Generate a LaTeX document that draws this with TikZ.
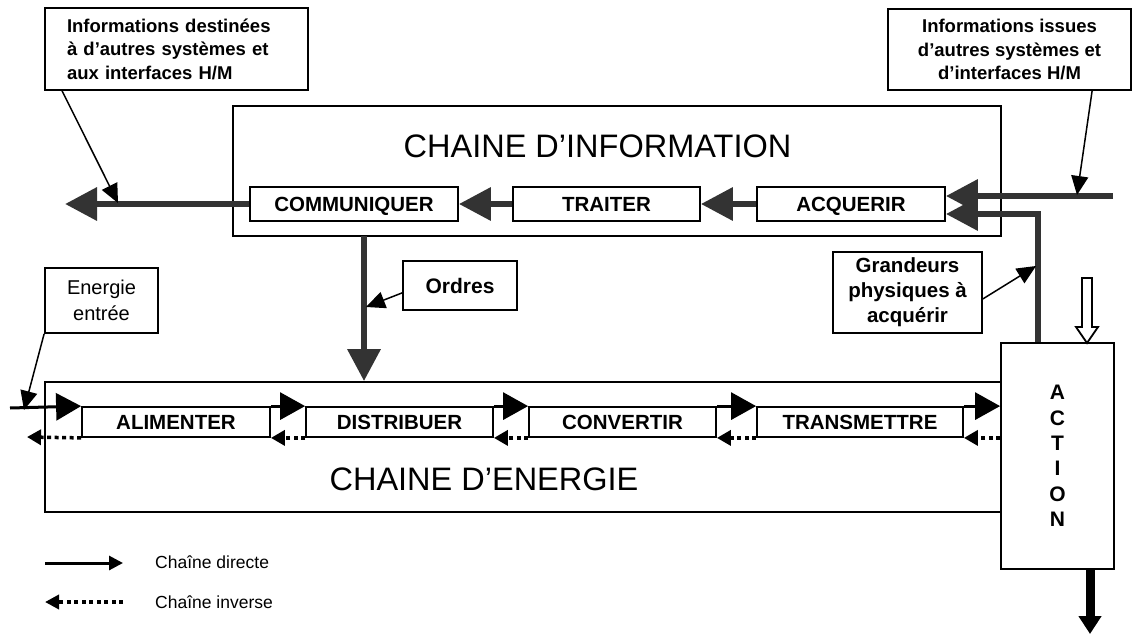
\documentclass[tikz,border=0pt]{standalone}
\usepackage{fontspec}
\setmainfont{Liberation Sans}
\usetikzlibrary{arrows.meta,calc}
\definecolor{infogray}{HTML}{333333}
\begin{document}
\begin{tikzpicture}[x=1pt,y=-1pt,
  bigbox/.style={draw, line width=1.8pt, fill=white, inner sep=0pt},
  sbox/.style={draw, line width=1.8pt, fill=white, inner sep=0pt,
    font=\bfseries\fontsize{20.5}{24}\selectfont},
  capbox/.style={sbox, text height=14.7pt, text depth=0pt},
  cbox/.style={draw, line width=1.8pt, fill=white, inner sep=0pt,
    font=\bfseries\fontsize{18.5}{23.5}\selectfont},
  titletext/.style={inner sep=0pt, font=\fontsize{32.5}{36}\selectfont},
  legtext/.style={inner sep=0pt, anchor=west, font=\fontsize{17.5}{20}\selectfont},
  infoarrow/.style={draw=infogray, line width=6.5pt, -{Triangle[length=32pt,width=32pt]}},
  enarrow/.style={draw=black, line width=3pt, -{Triangle[length=25pt,width=27pt]}},
  invarrow/.style={draw=black, line width=3.5pt, dash pattern=on 4pt off 3.5pt,
    -{Triangle[length=14pt,width=15pt]}},
  pointer/.style={draw=black, line width=1.5pt, -{Triangle[length=19pt,width=17pt]}}
]
\useasboundingbox (0,0) rectangle (1132,634);

% ---------- information chain ----------
\node[bigbox, minimum width=768pt, minimum height=130pt] (info) at (617,171) {};
\node[titletext] (infot) at (597.5,146) {CHAINE D’INFORMATION};

\node[capbox, minimum width=208pt, minimum height=34pt] (com) at (354,204) {COMMUNIQUER};
\node[capbox, minimum width=187pt, minimum height=34pt] (tra) at (606.5,204) {TRAITER};
\node[capbox, minimum width=188pt, minimum height=34pt] (acq) at (851,204) {ACQUERIR};

\coordinate (outL) at (65,204);
\coordinate (inR) at (1113,196);
\coordinate (fb) at (1038,214);
\coordinate (ordTop) at (364,236);

% ---------- energy chain ----------
\node[bigbox, minimum width=957pt, minimum height=130pt] (ene) at (523.5,447) {};
\node[titletext] (enet) at (484,479) {CHAINE D’ENERGIE};

\node[capbox, minimum width=188pt, minimum height=30pt] (ali) at (176,422) {ALIMENTER};
\node[capbox, minimum width=187pt, minimum height=30pt] (dis) at (399.5,422) {DISTRIBUER};
\node[capbox, minimum width=187pt, minimum height=30pt] (con) at (622.5,422) {CONVERTIR};
\node[capbox, minimum width=206pt, minimum height=30pt] (trm) at (860,422) {TRANSMETTRE};

\node[bigbox, minimum width=113pt, minimum height=226pt, align=center,
  font=\bfseries\fontsize{21}{25.4}\selectfont] (act) at (1057.5,456) {A\\C\\T\\I\\O\\N};

% ---------- info arrows ----------
\draw[infoarrow] (tra.west) -- (com.east);
\draw[infoarrow] (acq.west) -- (tra.east);
\draw[infoarrow] (com.west) -- (outL);
\draw[infoarrow] (inR) -- (acq.east |- inR);
\draw[infoarrow] (fb |- act.north) -- (fb) -- (acq.east |- fb);
\draw[infoarrow] (ordTop) -- (ordTop |- ene.north);

% ---------- energy arrows ----------
\coordinate (ein) at (10,408);
\coordinate (eout) at (27,437);
\draw[enarrow] (ein) -- (ali.north west);
\draw[enarrow] (ali.north east) -- (dis.north west);
\draw[enarrow] (dis.north east) -- (con.north west);
\draw[enarrow] (con.north east) -- (trm.north west);
\draw[enarrow] (trm.north east) -- (trm.north east -| act.west);
\draw[invarrow] (ali.south west) -- (eout);
\draw[invarrow] (dis.south west) -- (ali.south east);
\draw[invarrow] (con.south west) -- (dis.south east);
\draw[invarrow] (trm.south west) -- (con.south east);
\draw[invarrow] (trm.south east -| act.west) -- (trm.south east);

% ---------- action in / out ----------
\draw[line width=1.8pt, fill=white] (1082,278) -- (1092,278) -- (1092,327) -- (1098,327)
  -- (1087,343) -- (1076,327) -- (1082,327) -- cycle;
\coordinate (actOut) at (1090,634);
\draw[draw=black, line width=9pt, -{Triangle[length=18pt,width=22pt]}] (1090,569) -- (actOut);

% ---------- callouts ----------
\node[cbox, minimum width=263pt, minimum height=82pt, align=left, text width=219pt]
  (ctl) at (176.5,49) {Informations destinées\\à d’autres systèmes et\\aux interfaces H/M};
\node[cbox, minimum width=243pt, minimum height=81pt, align=center]
  (ctr) at (1009.5,49.5) {Informations issues\\d’autres systèmes et\\d’interfaces H/M};
\node[sbox, minimum width=149pt, minimum height=81pt, align=center,
  font=\bfseries\fontsize{20.5}{25}\selectfont]
  (cgr) at (907.5,292.5) {Grandeurs\\physiques à\\acquérir};
\node[sbox, minimum width=114pt, minimum height=49pt, font=\bfseries\fontsize{21}{25}\selectfont]
  (cord) at (460,285.5) {Ordres};
\node[bigbox, minimum width=113pt, minimum height=65pt, align=center,
  font=\fontsize{20}{26}\selectfont]
  (cen) at (101.5,300.5) {Energie\\entrée};

\coordinate (ptl) at (118,203);
\coordinate (ptr) at (1077,195);
\coordinate (pgr) at (1036,266);
\coordinate (pord) at (366,307);
\coordinate (pen) at (24,410);
\draw[pointer] ($(ctl.south west)+(18,0)$) -- (ptl);
\draw[pointer] ($(ctr.south west)+(205,0)$) -- (ptr);
\draw[pointer] ($(cgr.south east)+(0,-35)$) -- (pgr);
\draw[pointer] ($(cord.south west)+(0,-18)$) -- (pord);
\draw[pointer] (cen.south west) -- (pen);

% ---------- legend ----------
\coordinate (l1a) at (45,563);
\coordinate (l1b) at (123,563);
\coordinate (l2a) at (123,602);
\coordinate (l2b) at (45,602);
\draw[draw=black, line width=3pt, -{Triangle[length=14pt,width=14pt]}] (l1a) -- (l1b);
\draw[draw=black, line width=3.5pt, dash pattern=on 4pt off 3.5pt,
  -{Triangle[length=14pt,width=14pt]}] (l2a) -- (l2b);
\node[legtext] (lt1) at (155,562) {Chaîne directe};
\node[legtext] (lt2) at (155,602) {Chaîne inverse};
\end{tikzpicture}
\end{document}
